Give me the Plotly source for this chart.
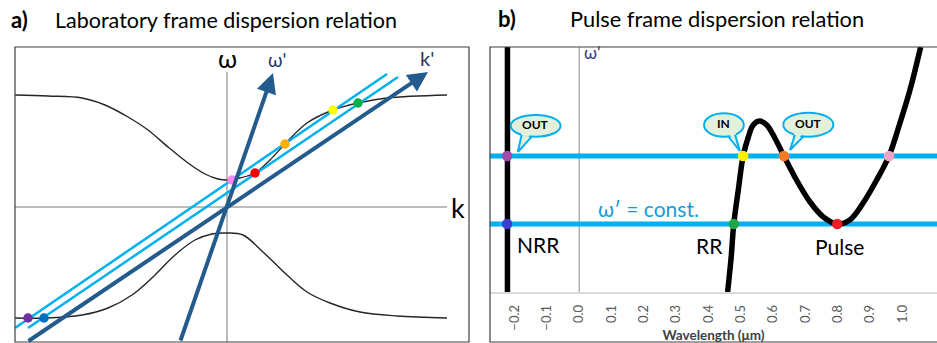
import math
import plotly.graph_objects as go

# ---------------- Panel a: laboratory frame (arbitrary units) ----------------
k_upper = [-2.12, -1.79, -1.45, -1.22, -0.99, -0.79, -0.59, -0.39, -0.22, -0.09, 0.0,
           0.13, 0.28, 0.43, 0.58, 0.80, 1.06, 1.31, 1.60, 2.20]
w_upper = [1.12, 1.11, 1.09, 1.02, 0.90, 0.77, 0.60, 0.44, 0.33, 0.28, 0.27,
           0.29, 0.34, 0.47, 0.63, 0.84, 0.97, 1.04, 1.09, 1.12]
k_lower = [-2.12, -1.83, -1.45, -1.19, -0.95, -0.72, -0.52, -0.32, -0.15, 0.0,
           0.16, 0.36, 0.60, 0.80, 1.03, 1.33, 1.70, 2.20]
w_lower = [-1.11, -1.11, -1.08, -1.01, -0.88, -0.68, -0.48, -0.33, -0.27, -0.26,
           -0.28, -0.45, -0.68, -0.85, -0.96, -1.05, -1.09, -1.11]

line1_k = [-2.12, 1.60]
line1_w = [-1.21, 1.33]
line2_k = [-1.99, 1.71]
line2_w = [-1.21, 1.30]

kprime_tail = (-2.00, -1.35)
kprime_tip = (2.01, 1.35)
wprime_tail = (-0.47, -1.35)
wprime_tip = (0.46, 1.34)

dots_a_k = [-1.99, -1.83, 0.05, 0.28, 0.58, 1.06, 1.31]
dots_a_w = [-1.11, -1.11, 0.27, 0.34, 0.63, 0.97, 1.04]
dots_a_c = ["#7030A0", "#0070C0", "#FF88F4", "#FF0000", "#FFB000", "#FFFF00", "#00B050"]

# ---------------- Panel b: pulse frame ----------------
nrr_x = [-0.222, -0.222]
nrr_y = [0.0, 2.45]
curve_x = [0.459, 0.470, 0.478, 0.492, 0.507, 0.523, 0.538, 0.557, 0.580, 0.605, 0.633,
           0.672, 0.714, 0.755, 0.798, 0.837, 0.878, 0.920, 0.958, 0.992, 1.023, 1.056]
curve_y = [0.00, 0.35, 0.68, 1.02, 1.36, 1.55, 1.67, 1.71, 1.67, 1.54, 1.36,
           1.12, 0.90, 0.75, 0.68, 0.72, 0.89, 1.12, 1.36, 1.69, 2.02, 2.45]
const_levels = [1.36, 0.68]
xb_range = [-0.276, 1.1066]

dots_b_x = [-0.223, -0.223, 0.478, 0.507, 0.633, 0.798, 0.958]
dots_b_y = [1.36, 0.68, 0.68, 1.36, 1.36, 0.68, 1.36]
dots_b_c = ["#A24BA8", "#3D3FD1", "#1FA64A", "#FFF200", "#FF7A22", "#EE1C25", "#F5A3C7"]

tick_vals = [-0.2, -0.1, 0.0, 0.1, 0.2, 0.3, 0.4, 0.5, 0.6, 0.7, 0.8, 0.9, 1.0, 1.1]

DARK = "#235B8C"
LIGHT = "#00B0F0"
NAVY = "#1F3864"
FONT = "Lato"

fig = go.Figure()

# panel a traces
fig.add_trace(go.Scatter(x=[-2.12, 2.20], y=[0, 0], mode="lines",
                         line=dict(color="#A6A6A6", width=1.5), xaxis="x", yaxis="y"))
fig.add_trace(go.Scatter(x=[0, 0], y=[-1.35, 1.35], mode="lines",
                         line=dict(color="#A6A6A6", width=1.5), xaxis="x", yaxis="y"))
fig.add_trace(go.Scatter(x=k_upper, y=w_upper, mode="lines", line_shape="spline",
                         line=dict(color="#262626", width=1.4), xaxis="x", yaxis="y"))
fig.add_trace(go.Scatter(x=k_lower, y=w_lower, mode="lines", line_shape="spline",
                         line=dict(color="#262626", width=1.4), xaxis="x", yaxis="y"))
for lk, lw in [(line1_k, line1_w), (line2_k, line2_w)]:
    fig.add_trace(go.Scatter(x=lk, y=lw, mode="lines",
                             line=dict(color=LIGHT, width=2.5), xaxis="x", yaxis="y"))

# panel b traces
fig.add_trace(go.Scatter(x=[0, 0], y=[0, 2.45], mode="lines",
                         line=dict(color="#B0B0B0", width=1.5), xaxis="x2", yaxis="y2"))
for lv in const_levels:
    fig.add_trace(go.Scatter(x=xb_range, y=[lv, lv], mode="lines",
                             line=dict(color=LIGHT, width=5), xaxis="x2", yaxis="y2"))
fig.add_trace(go.Scatter(x=nrr_x, y=nrr_y, mode="lines",
                         line=dict(color="black", width=5.5), xaxis="x2", yaxis="y2"))
fig.add_trace(go.Scatter(x=curve_x, y=curve_y, mode="lines", line_shape="spline",
                         line=dict(color="black", width=5.5), xaxis="x2", yaxis="y2"))

# dots
fig.add_trace(go.Scatter(x=dots_a_k, y=dots_a_w, mode="markers",
                         marker=dict(color=dots_a_c, size=9.5), xaxis="x", yaxis="y"))
fig.add_trace(go.Scatter(x=dots_b_x, y=dots_b_y, mode="markers",
                         marker=dict(color=dots_b_c, size=10.5), xaxis="x2", yaxis="y2"))

annotations = []
# arrows panel a
for tail, tip in [(kprime_tail, kprime_tip), (wprime_tail, wprime_tip)]:
    annotations.append(dict(x=tip[0], y=tip[1], ax=tail[0], ay=tail[1], xref="x", yref="y",
                            axref="x", ayref="y", text="", showarrow=True, arrowhead=2,
                            arrowsize=1.0, arrowwidth=4, arrowcolor=DARK))
# axis labels panel a
annotations += [
    dict(x=0, y=1.49, xref="x", yref="y", text="ω", showarrow=False,
         font=dict(family=FONT, size=25, color="black")),
    dict(x=2.31, y=0.0, xref="x", yref="y", text="k", showarrow=False,
         font=dict(family=FONT, size=27, color="black")),
    dict(x=0.50, y=1.47, xref="x", yref="y", text="ω'", showarrow=False,
         font=dict(family=FONT, size=19, color=NAVY)),
    dict(x=2.00, y=1.49, xref="x", yref="y", text="k'", showarrow=False,
         font=dict(family=FONT, size=20, color=NAVY)),
]
# titles
annotations += [
    dict(x=9 / 937, y=1 - 20 / 343, xref="paper", yref="paper", xanchor="left", yanchor="middle",
         text="<b>a)</b>", showarrow=False, font=dict(family=FONT, size=22, color="black")),
    dict(x=53 / 937, y=1 - 20 / 343, xref="paper", yref="paper", xanchor="left", yanchor="middle",
         text="Laboratory frame dispersion relation", showarrow=False,
         font=dict(family=FONT, size=21.5, color="black")),
    dict(x=496 / 937, y=1 - 18 / 343, xref="paper", yref="paper", xanchor="left", yanchor="middle",
         text="<b>b)</b>", showarrow=False, font=dict(family=FONT, size=22, color="black")),
    dict(x=568 / 937, y=1 - 18 / 343, xref="paper", yref="paper", xanchor="left", yanchor="middle",
         text="Pulse frame dispersion relation", showarrow=False,
         font=dict(family=FONT, size=21.8, color="black")),
]
# panel b labels
annotations += [
    dict(x=0.007, y=2.39, xref="x2", yref="y2", xanchor="left", text="ω'", showarrow=False,
         font=dict(family=FONT, size=17, color="#2E3A8C")),
    dict(x=0.052, y=0.84, xref="x2", yref="y2", xanchor="left",
         text="ω′ = const.", showarrow=False,
         font=dict(family=FONT, size=21, color="#1A9AD6")),
    dict(x=-0.198, y=0.48, xref="x2", yref="y2", xanchor="left", text="NRR", showarrow=False,
         font=dict(family=FONT, size=21, color="black")),
    dict(x=0.404, y=0.47, xref="x2", yref="y2", text="RR", showarrow=False,
         font=dict(family=FONT, size=21, color="black")),
    dict(x=0.806, y=0.46, xref="x2", yref="y2", text="Pulse", showarrow=False,
         font=dict(family=FONT, size=21, color="black")),
]

shapes = []
# frames
shapes.append(dict(type="rect", xref="paper", yref="paper", x0=15 / 937, x1=469 / 937,
                   y0=1 / 343, y1=296 / 343, line=dict(color="#404040", width=1.2)))
shapes.append(dict(type="rect", xref="paper", yref="paper", x0=490 / 937, x1=1.01,
                   y0=1 / 343, y1=296 / 343, line=dict(color="#404040", width=1.2)))

# speech bubbles (panel b)
BFILL = "#E3F0DA"
def bubble(x0, x1, y0, y1, bx1, bx2, tipx, tipy, label):
    cx, cy = (x0 + x1) / 2, (y0 + y1) / 2
    a, b = (x1 - x0) / 2, (y1 - y0) / 2
    def edge(bx):
        r = max(0.0, 1 - ((bx - cx) / a) ** 2)
        return cy - b * math.sqrt(r)
    e1, e2 = edge(bx1), edge(bx2)
    shapes.append(dict(type="circle", xref="x2", yref="y2", x0=x0, x1=x1, y0=y0, y1=y1,
                       fillcolor=BFILL, line=dict(color=LIGHT, width=2), layer="above"))
    path = f"M {bx1},{e1 + 0.04} L {tipx},{tipy} L {bx2},{e2 + 0.04} Z"
    shapes.append(dict(type="path", xref="x2", yref="y2", path=path, fillcolor=BFILL,
                       line=dict(width=0), layer="above"))
    for bx, e in [(bx1, e1), (bx2, e2)]:
        shapes.append(dict(type="line", xref="x2", yref="y2", x0=bx, y0=e, x1=tipx, y1=tipy,
                           line=dict(color=LIGHT, width=2), layer="above"))
    annotations.append(dict(x=cx, y=cy + 0.01, xref="x2", yref="y2", text=f"<b>{label}</b>",
                            showarrow=False, font=dict(family=FONT, size=12, color="black")))

bubble(-0.212, -0.0575, 1.553, 1.77, -0.178, -0.147, -0.190, 1.40, "OUT")
bubble(0.386, 0.509, 1.553, 1.787, 0.461, 0.482, 0.497, 1.41, "IN")
bubble(0.631, 0.786, 1.553, 1.793, 0.667, 0.693, 0.652, 1.42, "OUT")

fig.update_layout(
    width=937, height=343, margin=dict(l=0, r=0, t=0, b=0),
    paper_bgcolor="white", plot_bgcolor="white", showlegend=False,
    font=dict(family=FONT),
    xaxis=dict(domain=[15 / 937, 469 / 937], range=[-2.12, 2.42], visible=False),
    yaxis=dict(domain=[1 / 343, 296 / 343], range=[-1.35, 1.60], visible=False),
    xaxis2=dict(domain=[490 / 937, 1.0], range=xb_range, showgrid=False, zeroline=False,
                showline=True, linecolor="#D9D9D9", linewidth=1.5, anchor="y2",
                tickmode="array", tickvals=tick_vals, tickformat=".1f", tickangle=-90,
                ticks="", ticklabelstandoff=6,
                tickfont=dict(family=FONT, size=13, color="#595959"),
                title=dict(text="<b>Wavelength (μm)</b>", standoff=2,
                           font=dict(family=FONT, size=13.5, color="#404040"))),
    yaxis2=dict(domain=[51 / 343, 296 / 343], range=[0, 2.45], visible=False, anchor="x2"),
    annotations=annotations, shapes=shapes,
)

fig.write_html("out.html")
